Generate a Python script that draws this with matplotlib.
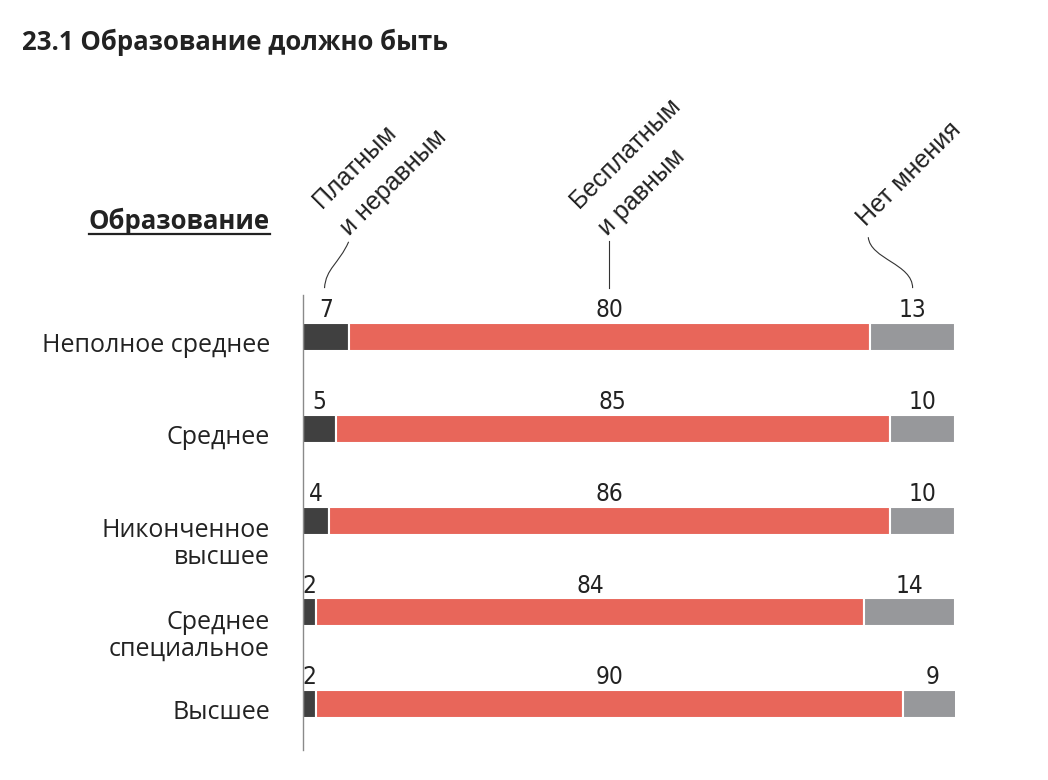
import numpy as np
import matplotlib
matplotlib.use("Agg")
from matplotlib import pyplot as plt
from matplotlib.path import Path
from matplotlib.patches import PathPatch

# values from the chart, percent
categories = ["Неполное среднее", "Среднее", "Никонченное\nвысшее", "Среднее\nспециальное", "Высшее"]
paid = [7, 5, 4, 2, 2]
free = [80, 85, 86, 84, 90]
no_opinion = [13, 10, 10, 14, 9]
series_names = ["Платным\nи неравным", "Бесплатным\nи равным", "Нет мнения"]
colors = ["#404040", "#e8665a", "#97989b"]

label_font = ["Open Sans", "DejaVu Sans"]
num_font = ["DejaVu Sans"]
head_font = ["Liberation Sans", "DejaVu Sans"]

fig = plt.figure(figsize=(10.48, 7.8), dpi=100)
W, H = 1048, 780
ax = fig.add_axes([303 / W, (H - 750) / H, (955 - 303) / W, (750 - 295) / H])

y = np.arange(len(categories))
bar_h = 0.305
left = np.zeros(len(categories))
for vals, c in zip([paid, free, no_opinion], colors):
    vals = np.array(vals, dtype=float)
    ax.barh(y, vals, left=left, height=bar_h, color=c, edgecolor="white", linewidth=1.5)
    for yi, l, v in zip(y, left, vals):
        ax.text(l + v / 2, yi - 0.215, str(int(v)), ha="center", va="baseline",
                fontsize=17.5, family=num_font, fontstretch="condensed", color="#222222")
    left = left + vals

ax.set_xlim(0, 100)
ax.set_ylim(4.5, -0.46)
ax.set_xticks([])
ax.set_yticks([])
for s in ["top", "right", "bottom"]:
    ax.spines[s].set_visible(False)
ax.spines["left"].set_color("#8a8a8a")
ax.spines["left"].set_linewidth(1.0)

# row labels, baseline of the last line
for yi, name in zip(y, categories):
    n = name.count("\n")
    ax.text(-33 / 6.52, yi + 0.165 + n * 0.305, name, ha="right", va="baseline", fontsize=18,
            family=label_font, color="#222222", linespacing=1.1)

# rotated series headers with connectors
first_mid = paid[0] / 2
free_mid = paid[0] + free[0] / 2
no_mid = paid[0] + free[0] + no_opinion[0] / 2
header_pos = [(first_mid + 2.0, -1.21), (free_mid - 2.0, -1.21), (no_mid - 7.2, -1.2)]
for (hx, hy), name in zip(header_pos, series_names):
    ax.text(hx, hy, name, rotation=45, rotation_mode="anchor", ha="left", va="baseline",
            fontsize=18, family=head_font, color="#222222", linespacing=1.8, clip_on=False)

conn = dict(facecolor="none", edgecolor="#333333", linewidth=0.8, clip_on=False)
top_y, bot_y = -1.04, -0.535
p1 = Path([(first_mid + 3.5, top_y), (first_mid + 2.0, -0.8), (first_mid, -0.75), (first_mid - 0.2, bot_y)],
          [Path.MOVETO, Path.CURVE4, Path.CURVE4, Path.CURVE4])
ax.add_patch(PathPatch(p1, **conn))
ax.plot([free_mid, free_mid], [-1.05, bot_y], color="#333333", lw=0.8, clip_on=False)
p3 = Path([(no_mid - 6.8, -1.09), (no_mid - 6.5, -0.85), (no_mid, -0.8), (no_mid, bot_y)],
          [Path.MOVETO, Path.CURVE4, Path.CURVE4, Path.CURVE4])
ax.add_patch(PathPatch(p3, **conn))

fig.text(22 / W, 1 - 50 / H, "23.1 Образование должно быть", ha="left", va="baseline",
         fontsize=18.5, fontweight="bold", family=label_font, color="#222222")

hdr = fig.text(270 / W, 1 - 229 / H, "Образование", ha="right", va="baseline",
               fontsize=18.5, fontweight="bold", family=label_font, color="#222222")
fig.canvas.draw()
bb = hdr.get_window_extent()
fig.add_artist(plt.Line2D([bb.x0 / W, bb.x1 / W], [1 - 234 / H, 1 - 234 / H],
                          transform=fig.transFigure, color="#222222", lw=1.6))

fig.savefig("out.png", dpi=100)
